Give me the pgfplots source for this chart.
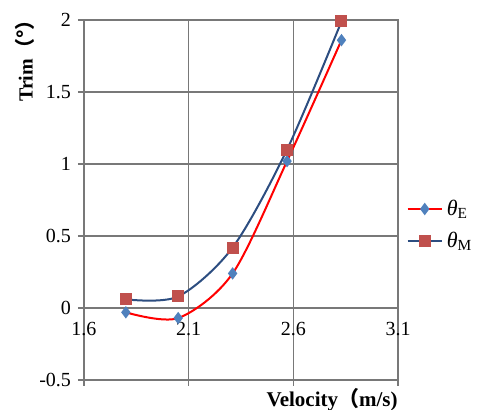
\documentclass[border=0pt]{standalone}
\usepackage{pgfplots}
\pgfplotsset{compat=1.18}
\usepackage{fontspec}
\setmainfont{Liberation Serif}
\newfontfamily\cjk{Noto Sans CJK SC}

\definecolor{gridgray}{RGB}{120,120,120}
\definecolor{markblue}{RGB}{79,129,189}
\definecolor{markred}{RGB}{192,80,77}
\definecolor{linenavy}{RGB}{44,77,128}

\begin{document}
\begin{tikzpicture}
\begin{axis}[
    scale only axis,
    width=157pt, height=180pt,
    xmin=1.6, xmax=3.1,
    ymin=-0.5, ymax=2,
    clip mode=individual,
    xtick={1.6,2.1,2.6,3.1},
    ytick={-0.5,0,0.5,1,1.5,2},
    xtick pos=bottom, ytick pos=left,
    tick align=outside, major tick length=3pt,
    grid=major,
    grid style={gridgray, line width=0.6pt},
    axis line style={gridgray, line width=0.6pt},
    tick style={gridgray, line width=0.6pt},
    /pgf/number format/assume math mode=true,
    tick label style={font=\fontsize{10}{12}\selectfont, black},
    xticklabel style={yshift=35.5pt},
    legend style={at={(rel axis cs:1.02,0.43)}, anchor=west,
        draw=none, fill=none, font=\fontsize{11}{13}\selectfont,
        row sep=3pt, inner sep=1pt},
    legend cell align=left,
]
% theta_E
\addplot[red, line width=1pt, smooth,
    mark=diamond*, mark size=2.3pt,
    mark options={fill=markblue, draw=markblue}] coordinates {
    (1.80,-0.03) (2.05,-0.07) (2.31,0.24) (2.57,1.02) (2.83,1.86)
};
\addlegendentry{\textit{θ}\textsubscript{E}}

% theta_M
\addplot[linenavy, line width=1pt, smooth,
    mark=square*, mark size=2.5pt,
    mark options={fill=markred, draw=markred}] coordinates {
    (1.80,0.06) (2.05,0.08) (2.31,0.42) (2.57,1.10) (2.83,1.99)
};
\addlegendentry{\textit{θ}\textsubscript{M}}

\node[anchor=north east, inner sep=0pt, font=\fontsize{10.5}{12}\selectfont\bfseries]
    at ([yshift=-4pt]rel axis cs:1,0) {Velocity{\cjk （}m/s)};
\node[rotate=90, anchor=north east, inner sep=0pt, font=\fontsize{10}{11}\selectfont\bfseries]
    at ([shift={(-34.5pt,5pt)}]rel axis cs:0,1) {Trim{\cjk （°）}};

\coordinate (ll) at (rel axis cs:0,0);
\coordinate (ur) at (rel axis cs:1,1);
\end{axis}
\pgfresetboundingbox
\path ([shift={(-42pt,-15pt)}]ll) rectangle ([shift={(39.5pt,10pt)}]ur);
\end{tikzpicture}
\end{document}
